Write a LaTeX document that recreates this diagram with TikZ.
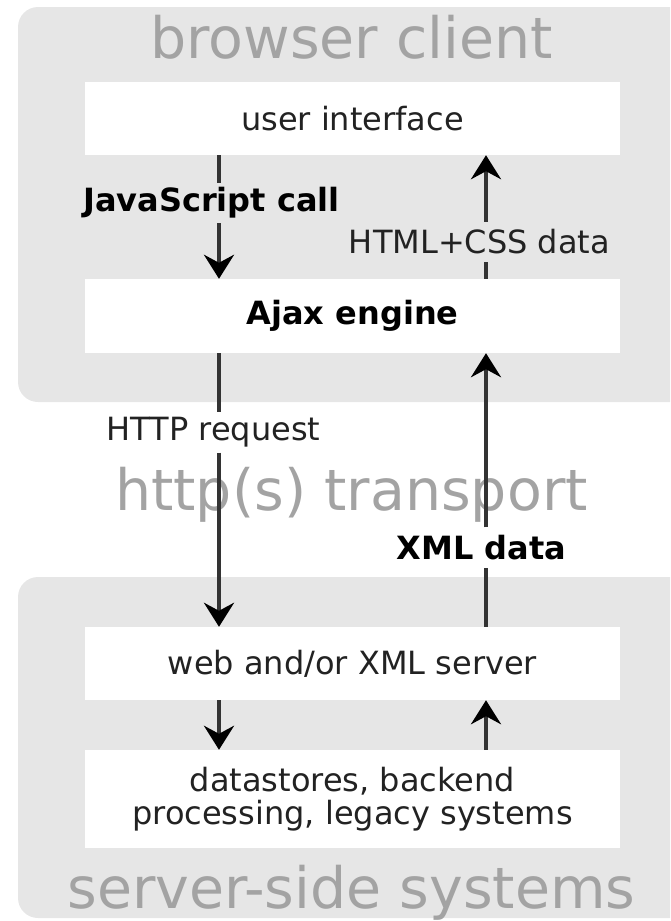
\documentclass[tikz,border=0pt]{standalone}
\usepackage{fontspec}
\setmainfont{DejaVu Sans}
\usetikzlibrary{arrows.meta}
\definecolor{panelgray}{HTML}{E6E6E6}
\definecolor{titlegray}{HTML}{A3A3A3}
\definecolor{inkgray}{HTML}{222222}
\definecolor{linegray}{HTML}{333333}
\newcommand\dgReg{\fontsize{32}{33}\selectfont}
\newcommand\dgBold{\fontsize{32}{33}\selectfont\bfseries}
\newcommand\dgTitle{\fontsize{57}{60}\selectfont}
\begin{document}
\begin{tikzpicture}[x=1pt,y=-1pt,
  panelbox/.style={fill=panelgray, rounded corners=20pt},
  whitebox/.style={fill=white, minimum width=535pt, inner sep=0pt, font=\dgReg, text=inkgray},
  titletext/.style={font=\dgTitle, text=titlegray, inner sep=0pt, anchor=base},
  lab/.style={font=\dgReg, text=inkgray, inner sep=0pt, minimum height=40pt},
  blab/.style={font=\dgBold, text=black, inner sep=0pt, minimum height=40pt},
  conn/.style={line width=4pt, draw=linegray},
  arr/.style={conn, -{Stealth[length=24pt,width=30pt,inset=8pt,color=black,fill=black]}}]
\useasboundingbox (0,0) rectangle (670,921);
\clip (0,0) rectangle (670,921);
\fill[panelbox] (18,7) rectangle (710,402);
\fill[panelbox] (18,577) rectangle (710,918);
% titles
\node[titletext] (bc) at (351.5,58) {browser client};
\node[titletext] (tr) at (351.5,510) {http(s) transport};
\node[titletext] (ss) at (351.5,908) {server-side systems};
% boxes
\node[whitebox, minimum height=73pt] (ui) at (352.5,118.5) {user interface};
\node[whitebox, minimum height=74pt, font=\dgBold, text=black] (ajax) at (352.5,316) {Ajax engine};
\node[whitebox, minimum height=73pt] (web) at (352.5,663.5) {web and/or XML server};
\node[whitebox, minimum height=98pt, align=center] (ds) at (352.5,799) {datastores, backend\\processing, legacy systems};
% labels
\node[blab] (js) at (211.5,203) {JavaScript call};
\node[lab] (hc) at (479.5,242) {HTML+CSS data};
\node[lab] (hr) at (213.5,432.5) {HTTP request};
\node[blab] (xd) at (481.5,547.5) {XML data};
% arrow columns
\coordinate (L) at (219,0);
\coordinate (R) at (486,0);
% connectors
\draw[conn] (ui.south -| L) -- (js.north -| L);
\draw[arr] (js.south -| L) -- (ajax.north -| L);
\draw[arr] (hc.north -| R) -- (ui.south -| R);
\draw[conn] (ajax.north -| R) -- (hc.south -| R);
\draw[conn] (ajax.south -| L) -- (hr.north -| L);
\draw[arr] (hr.south -| L) -- (web.north -| L);
\draw[arr] (xd.north -| R) -- (ajax.south -| R);
\draw[conn] (web.north -| R) -- (xd.south -| R);
\draw[arr] (web.south -| L) -- (ds.north -| L);
\draw[arr] (ds.north -| R) -- (web.south -| R);
\end{tikzpicture}
\end{document}
